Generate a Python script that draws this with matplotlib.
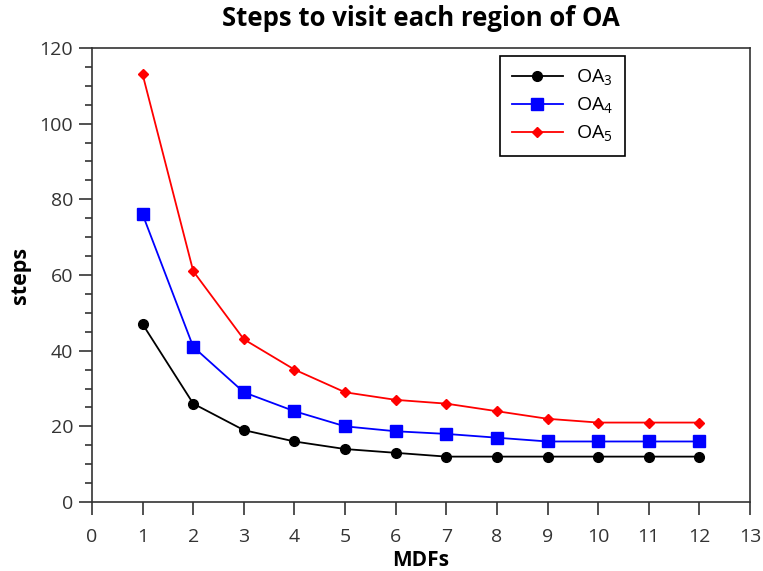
import numpy as np
import matplotlib.pyplot as plt
from matplotlib.ticker import MultipleLocator

plt.rcParams['font.family'] = ['Open Sans', 'DejaVu Sans']
plt.rcParams['mathtext.fontset'] = 'custom'
plt.rcParams['mathtext.rm'] = 'Open Sans'

#* data
mdfs = [1, 2, 3, 4, 5, 6, 7, 8, 9, 10, 11, 12]
oa3 = [47, 26, 19, 16, 14, 13, 12, 12, 12, 12, 12, 12]
oa4 = [76, 41, 29, 24, 20, 18.7, 18, 17, 16, 16, 16, 16]
oa5 = [113, 61, 43, 35, 29, 27, 26, 24, 22, 21, 21, 21]

fig = plt.figure(figsize=(7.63, 5.71), dpi=100)
ax = fig.add_axes([0.1206, 0.1208, 0.8624, 0.7952])

ax.plot(mdfs, oa3, color='black', marker='o', markersize=7, lw=1.3, label=r'OA$_\mathrm{3}$')
ax.plot(mdfs, oa4, color='blue', marker='s', markersize=8, lw=1.3, label=r'OA$_\mathrm{4}$')
ax.plot(mdfs, oa5, color='red', marker='D', markersize=5, lw=1.3, label=r'OA$_\mathrm{5}$')

ax.set_xlim(0, 13)
ax.set_ylim(0, 120)
ax.xaxis.set_major_locator(MultipleLocator(1))
ax.yaxis.set_major_locator(MultipleLocator(20))
ax.yaxis.set_minor_locator(MultipleLocator(5))
ax.tick_params(which='major', direction='out', length=9.5, width=1.2, colors='#333333',
               labelsize=14, pad=4)
ax.tick_params(axis='x', which='major', pad=9)
ax.tick_params(which='minor', direction='out', length=5, width=1.2, colors='#333333')
for s in ax.spines.values():
    s.set_color('#333333')
    s.set_linewidth(1.2)

ax.set_xlabel('MDFs', fontsize=15, fontweight='bold', labelpad=3)
ax.set_ylabel('steps', fontsize=15.5, fontweight='bold', labelpad=6)
ax.set_title('Steps to visit each region of OA', fontsize=18.5, fontweight='bold', pad=16)

leg = ax.legend(loc='upper left', bbox_to_anchor=(0.606, 1.004), fontsize=14,
                fancybox=False, edgecolor='black', framealpha=1,
                handlelength=2.6, borderpad=0.6, labelspacing=0.4, handletextpad=0.7)
leg.get_frame().set_linewidth(1.2)

plt.savefig('out.png', dpi=100)
